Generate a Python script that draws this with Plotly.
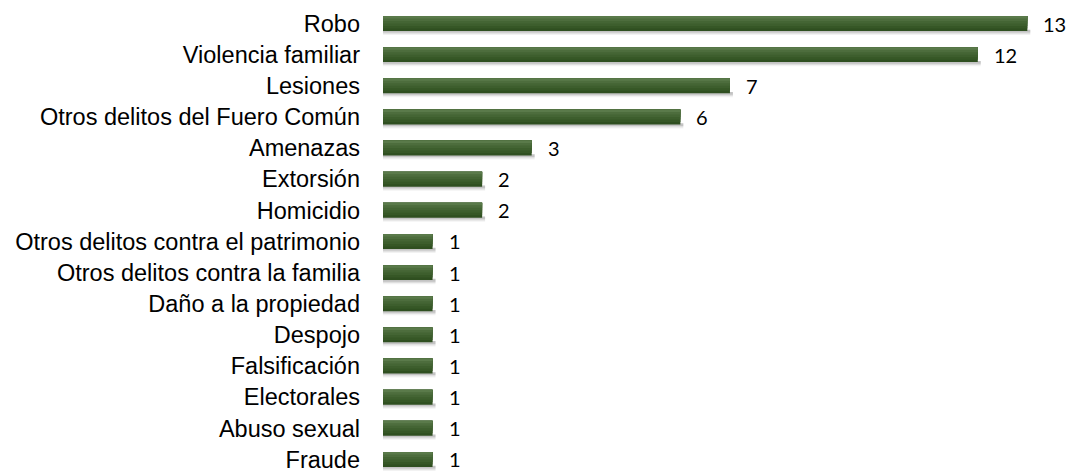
import plotly.graph_objects as go

categories = ["Robo", "Violencia familiar", "Lesiones", "Otros delitos del Fuero Común",
              "Amenazas", "Extorsión", "Homicidio", "Otros delitos contra el patrimonio",
              "Otros delitos contra la familia", "Daño a la propiedad", "Despojo",
              "Falsificación", "Electorales", "Abuso sexual", "Fraude"]
values = [13, 12, 7, 6, 3, 2, 2, 1, 1, 1, 1, 1, 1, 1, 1]

idx = list(range(len(categories)))
fig = go.Figure()

# soft shadow under each bar (band top offset, band bottom offset, colour)
shadow_bands = [(0.20, 0.37, "rgba(0,0,0,0.05)"), (0.20, 0.33, "rgba(0,0,0,0.08)"),
                (0.20, 0.29, "rgba(0,0,0,0.12)")]
for top, bot, col in shadow_bands:
    fig.add_trace(go.Bar(y=[i + (top + bot) / 2 for i in idx], x=[v + 0.06 for v in values],
                         orientation="h", width=bot - top,
                         marker=dict(color=col, line=dict(width=0)),
                         hoverinfo="skip", showlegend=False))

# vertical gradient of each bar: nested bars anchored at the top edge,
# darkest covers the full height, lighter ones cover shrinking top parts
grad = ["#2f4f20", "#365726", "#3d5e2d", "#446534", "#4d6d3d", "#5a7a4a"]
h = 0.48
n = len(grad)
for k, col in enumerate(grad):
    hk = h * (n - k) / n
    off = -h / 2 + hk / 2
    fig.add_trace(go.Bar(y=[i + off for i in idx], x=values, orientation="h",
                         width=hk,
                         marker=dict(color=col, line=dict(width=0)),
                         hoverinfo="skip", showlegend=False))

for i, v in zip(idx, values):
    fig.add_annotation(x=v, y=i, text=str(v), showarrow=False, xanchor="left",
                       xshift=14, yshift=0,
                       font=dict(family="Lato, Open Sans, sans-serif", size=20, color="#000000"))

fig.update_layout(
    width=1066, height=472, barmode="overlay",
    margin=dict(l=383, r=0, t=0, b=0),
    plot_bgcolor="white", paper_bgcolor="white",
    font=dict(family="Liberation Sans, Arial, sans-serif", size=23.5, color="#000000"),
)
fig.update_xaxes(range=[0, 13.78], visible=False)
fig.update_yaxes(range=[14.403, -0.755], tickmode="array", tickvals=idx, ticktext=categories,
                 showgrid=False, zeroline=False, showline=False, ticks="",
                 ticklabelstandoff=22, ticklabeloverflow="allow", tickfont=dict(size=23.5))
fig.add_shape(type="line", xref="x", yref="paper", x0=-0.01, x1=-0.01, y0=0, y1=0.985,
              line=dict(color="#eeeeee", width=1), layer="below")

fig.write_html("out.html", config={"displayModeBar": False},
               post_script="document.body.style.margin='0px';"
                           "document.body.style.overflow='hidden';")
